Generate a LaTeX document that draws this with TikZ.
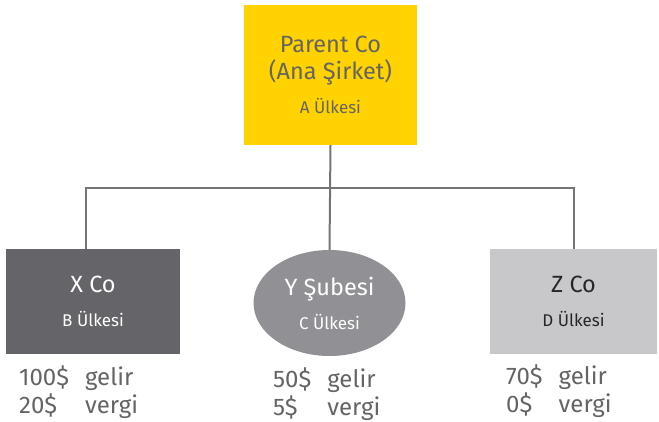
\documentclass[tikz,border=0pt]{standalone}
\usepackage{fontspec}
\setmainfont{Fira Sans}
\usetikzlibrary{shapes.geometric}
\definecolor{eyyellow}{HTML}{FFD200}
\definecolor{eydark}{HTML}{646469}
\definecolor{eymid}{HTML}{909095}
\definecolor{eylight}{HTML}{C8C8CA}
\definecolor{eytext}{HTML}{646464}
\definecolor{eyline}{HTML}{747474}
\tikzset{
  unitbox/.style={rectangle,inner sep=0pt,align=center,font=\fontsize{23.5}{27}\selectfont},
  link/.style={eyline,line width=2pt},
  figures/.style={anchor=north west,inner sep=0pt,text=eytext,font=\fontsize{24}{25}\selectfont}
}
\newcommand{\countryline}[1]{\\[7pt]{\fontsize{17}{18}\selectfont #1}}
\newcommand{\gelirvergi}[2]{\begin{tabular}{@{}l@{\hspace{16pt}}l@{}}#1 & gelir\\#2 & vergi\end{tabular}}
\begin{document}
\begin{tikzpicture}[x=1pt,y=-1pt]
    \useasboundingbox (0,0) rectangle (659,421);
    % parent
    \node[unitbox,fill=eyyellow,text=eytext,minimum width=173pt,minimum height=140pt]
      (parent) at (330.5,75) {Parent Co\\(Ana Şirket)\countryline{A Ülkesi}};
    % subsidiaries and branch
    \node[unitbox,fill=eydark,text=white,minimum width=174pt,minimum height=105pt]
      (xco) at (93,301.5) {X Co\countryline{B Ülkesi}};
    \node[unitbox,ellipse,fill=eymid,text=white,minimum width=152pt,minimum height=106pt]
      (ysub) at (329.5,303) {Y Şubesi\countryline{C Ülkesi}};
    \node[unitbox,fill=eylight,text=black!85,minimum width=167pt,minimum height=105pt]
      (zco) at (573.5,301.5) {Z Co\countryline{D Ülkesi}};
    % connectors
    \coordinate (bus) at (330,188);
    \coordinate (xtop) at ([xshift=-7pt]xco.north);
    \draw[link] (parent.south) -- (ysub.north);
    \draw[link] (xtop) |- (bus) -| (zco.north);
    % income and tax
    \node[figures] (xfig) at (19,366) {\gelirvergi{100\$}{20\$}};
    \node[figures] (yfig) at (273,368) {\gelirvergi{50\$}{5\$}};
    \node[figures] (zfig) at (506,365) {\gelirvergi{70\$}{0\$}};
\end{tikzpicture}
\end{document}
